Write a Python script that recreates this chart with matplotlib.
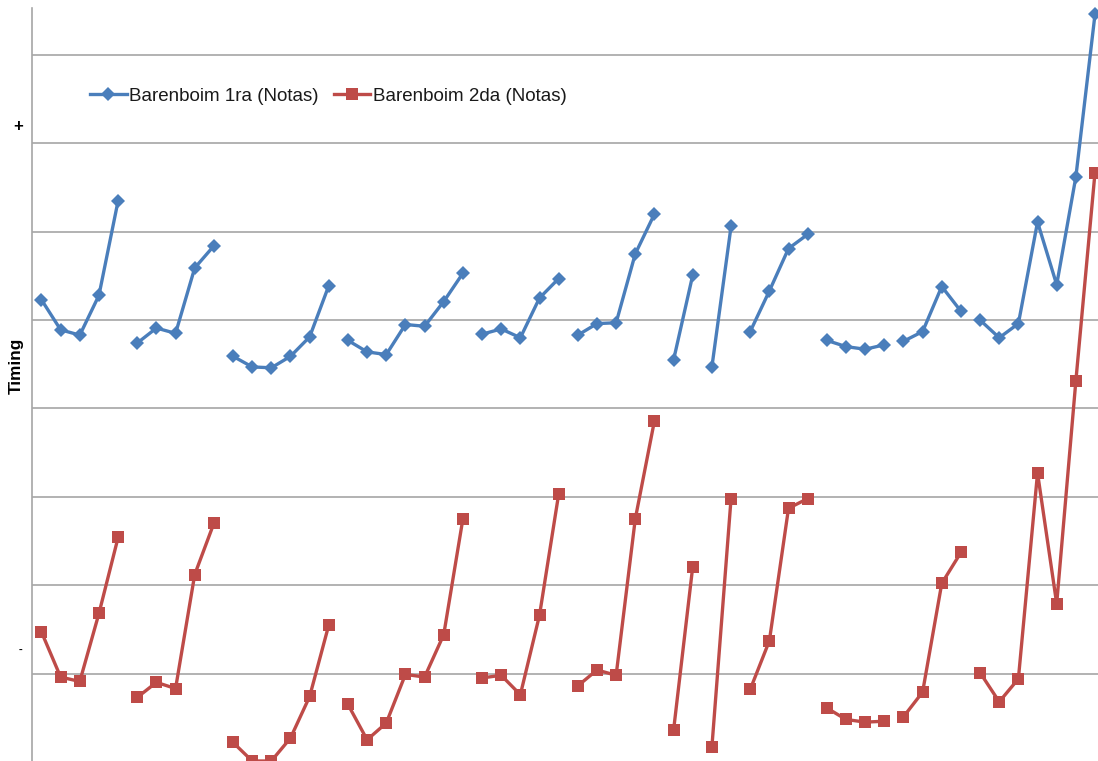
import matplotlib
matplotlib.use("Agg")
import matplotlib.pyplot as plt
import numpy as np

# ---- data (values in gridline units) ----
series_names = ["Barenboim 1ra (Notas)", "Barenboim 2da (Notas)"]
group_sizes = [5, 5, 6, 7, 5, 5, 2, 2, 4, 4, 4, 7]

blue_vals = [4.23, 3.89, 3.83, 4.28, 5.35,
             3.74, 3.91, 3.85, 4.59, 4.84,
             3.59, 3.47, 3.46, 3.59, 3.81, 4.39,
             3.77, 3.64, 3.61, 3.95, 3.93, 4.21, 4.53,
             3.84, 3.90, 3.80, 4.25, 4.47,
             3.83, 3.96, 3.97, 4.75, 5.20,
             3.55, 4.51,
             3.47, 5.06,
             3.87, 4.33, 4.81, 4.97,
             3.77, 3.70, 3.67, 3.72,
             3.76, 3.87, 4.38, 4.10,
             4.00, 3.80, 3.96, 5.11, 4.40, 5.62, 7.46]

red_vals = [0.47, -0.04, -0.09, 0.68, 1.54,
            -0.27, -0.10, -0.17, 1.12, 1.70,
            -0.78, -0.99, -0.99, -0.73, -0.26, 0.55,
            -0.35, -0.75, -0.56, -0.01, -0.04, 0.44, 1.75,
            -0.05, -0.02, -0.24, 0.66, 2.03,
            -0.14, 0.04, -0.02, 1.75, 2.86,
            -0.64, 1.21,
            -0.83, 1.98,
            -0.18, 0.37, 1.87, 1.98,
            -0.39, -0.52, -0.55, -0.54,
            -0.49, -0.21, 1.02, 1.37,
            0.01, -0.32, -0.06, 2.27, 0.79, 3.31, 5.67]

grid_levels = [0, 1, 2, 3, 4, 5, 6, 7]

# ---- figure ----
W, H = 1098, 761
fig = plt.figure(figsize=(W / 100, H / 100), dpi=100)
plt.rcParams['font.family'] = ['Liberation Sans', 'DejaVu Sans']

n = len(blue_vals)
cat_w = 19.155
left_px = 31.9
top_px = 8.0
ax = fig.add_axes([left_px / W, 0.0, n * cat_w / W, (H - top_px) / H])

blue = "#4A7EBB"
red = "#BE4B48"

x = np.arange(n)
start = 0
for gi, gs in enumerate(group_sizes):
    sl = slice(start, start + gs)
    ax.plot(x[sl], np.array(blue_vals)[sl], color=blue, lw=2.4, marker="D",
            markersize=7.2, markeredgewidth=0, clip_on=False, zorder=3,
            label=series_names[0] if gi == 0 else None)
    ax.plot(x[sl], np.array(red_vals)[sl], color=red, lw=2.4, marker="s",
            markersize=8.8, markeredgewidth=0, clip_on=False, zorder=3,
            label=series_names[1] if gi == 0 else None)
    start += gs

ax.set_xlim(-0.5, n - 0.5)
ax.set_ylim(-0.99, 7.532)
ax.set_yticks(grid_levels)
ax.set_xticks([])
ax.yaxis.grid(True, color="#A6A6A6", lw=1.2)
ax.set_axisbelow(True)
ax.tick_params(axis="y", length=0, labelleft=False)
for s in ["top", "right", "bottom"]:
    ax.spines[s].set_visible(False)
ax.spines["left"].set_color("#A6A6A6")
ax.spines["left"].set_linewidth(1.2)

# y-axis annotations
fig.text(18 / W, 1 - 127 / H, "+", ha="center", va="center",
         fontsize=12, fontweight="bold", color="black")
fig.text(20.5 / W, 1 - 650 / H, "-", ha="center", va="center",
         fontsize=8, fontweight="bold", color="black")
fig.text(16 / W, 1 - 366 / H, "Timing", ha="center", va="center",
         rotation=90, fontsize=12.3, fontweight="bold", color="black")

leg = ax.legend(loc="center left", bbox_to_anchor=(90 / W, 1 - 96 / H),
                bbox_transform=fig.transFigure, ncol=2, frameon=False,
                borderpad=0, borderaxespad=0, handlelength=1.95,
                handletextpad=0.15, columnspacing=0.8, fontsize=13.5,
                numpoints=1)
for t in leg.get_texts():
    t.set_color("#1a1a1a")

fig.savefig("out.png", dpi=100, facecolor="white")
